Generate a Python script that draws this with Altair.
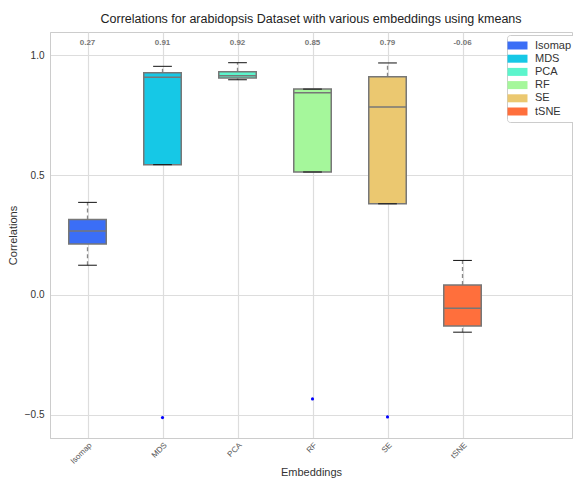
import json
import altair as alt
import pandas as pd

# ---- data ----
embeddings = ["Isomap", "MDS", "PCA", "RF", "SE", "tSNE"]
whisker_low = [0.124, 0.543, 0.897, 0.5125, 0.380, -0.155]
q1 = [0.2125, 0.543, 0.904, 0.5125, 0.380, -0.129]
medians = [0.267, 0.907, 0.914, 0.843, 0.783, -0.055]
q3 = [0.315, 0.926, 0.930, 0.858, 0.910, 0.042]
whisker_high = [0.386, 0.953, 0.968, 0.858, 0.967, 0.144]
median_labels = ["0.27", "0.91", "0.92", "0.85", "0.79", "-0.06"]
outlier_names = ["MDS", "RF", "SE"]
outlier_values = [-0.511, -0.433, -0.508]
colors = ["#3b6ef6", "#16c8e6", "#5cf5cc", "#a5f79b", "#ebc870", "#ff6f3c"]

FONT = "Liberation Sans"

df = pd.DataFrame({
    "name": embeddings,
    "pos": list(range(1, len(embeddings) + 1)),
    "lo": whisker_low, "q1": q1, "med": medians, "q3": q3, "hi": whisker_high,
    "lab": median_labels,
})
odf = pd.DataFrame({
    "name": outlier_names,
    "pos": [embeddings.index(n) + 1 for n in outlier_names],
    "val": outlier_values,
})

xscale = alt.Scale(domain=[0.5, 7.46], nice=False, zero=False)
yscale = alt.Scale(domain=[-0.596, 1.096], nice=False, zero=False)
label_expr = json.dumps(embeddings) + "[datum.value - 1]"

xaxis = alt.Axis(values=list(range(1, len(embeddings) + 1)), labelExpr=label_expr,
                 labelAngle=-45, labelFontSize=8, labelColor="#555555",
                 labelPadding=3, tickSize=0, domain=True, domainColor="#cccccc",
                 grid=True, gridColor="#dddddd", gridWidth=1.2,
                 titleFontSize=11, titleColor="#333333", titleFontWeight="normal",
                 titleY=28, titleBaseline="top")
yaxis = alt.Axis(values=[-0.5, 0.0, 0.5, 1.0], format=".1f", labelFontSize=10,
                 labelColor="#333333", labelPadding=6, tickSize=0,
                 domain=True, domainColor="#cccccc",
                 grid=True, gridColor="#dddddd", gridWidth=1,
                 titleFontSize=11, titleColor="#333333", titleFontWeight="normal",
                 titlePadding=6)


def X(field):
    return alt.X(field, scale=xscale, axis=xaxis, title="Embeddings")


def Y(field):
    return alt.Y(field, scale=yscale, axis=yaxis, title="Correlations")


base = alt.Chart(df).transform_calculate(
    bx1="datum.pos - 0.25", bx2="datum.pos + 0.25",
    cx1="datum.pos - 0.125", cx2="datum.pos + 0.125",
)

boxes = base.mark_rect(stroke="#777777", strokeWidth=1.5).encode(
    x=X("bx1:Q"), x2="bx2:Q",
    y=Y("q1:Q"), y2="q3:Q",
    color=alt.Color("name:N", scale=alt.Scale(domain=embeddings, range=colors),
                    legend=alt.Legend(title=None, orient="none", legendX=457, legendY=3,
                                      symbolType="M-2,-0.8H2V0.8H-2Z", symbolSize=100,
                                      symbolStrokeWidth=0, symbolOpacity=1,
                                      labelFontSize=11, labelColor="#333333", labelFont=FONT,
                                      labelOffset=12, rowPadding=1.2,
                                      fillColor="white", strokeColor="#cccccc",
                                      cornerRadius=3, padding=5)),
)

whisk_lo = base.mark_rule(color="#888888", strokeWidth=1.3, strokeDash=[4, 3]).encode(
    x=X("pos:Q"), y=Y("lo:Q"), y2="q1:Q")
whisk_hi = base.mark_rule(color="#888888", strokeWidth=1.3, strokeDash=[4, 3]).encode(
    x=X("pos:Q"), y=Y("q3:Q"), y2="hi:Q")
cap_lo = base.mark_rule(color="#111111", strokeWidth=1).encode(
    x=X("cx1:Q"), x2="cx2:Q", y=Y("lo:Q"))
cap_hi = base.mark_rule(color="#111111", strokeWidth=1).encode(
    x=X("cx1:Q"), x2="cx2:Q", y=Y("hi:Q"))
med = base.mark_rule(color="#777777", strokeWidth=1.5).encode(
    x=X("bx1:Q"), x2="bx2:Q", y=Y("med:Q"))
labels = base.mark_text(fontSize=8, color="#777777", fontWeight=600, font=FONT).encode(
    x=X("pos:Q"), y=alt.value(11), text="lab:N")
outl = alt.Chart(odf).mark_circle(color="#0000ff", size=10, opacity=1).encode(
    x=X("pos:Q"), y=Y("val:Q"))

chart = alt.layer(whisk_lo, whisk_hi, boxes, med, cap_lo, cap_hi, outl, labels).properties(
    width=522, height=406,
    title=alt.Title("Correlations for arabidopsis Dataset with various embeddings using kmeans",
                    fontSize=12.5, fontWeight="normal", color="#222222", font=FONT, offset=7),
    padding={"left": 50, "top": 32, "right": 1, "bottom": 41},
    autosize=alt.AutoSizeParams(type="none"),
).configure(font=FONT).configure_view(stroke="#cccccc", strokeWidth=1).configure_axis(
    labelFont=FONT, titleFont=FONT)

chart.save("out.html", embed_options={"renderer": "svg", "actions": False})
